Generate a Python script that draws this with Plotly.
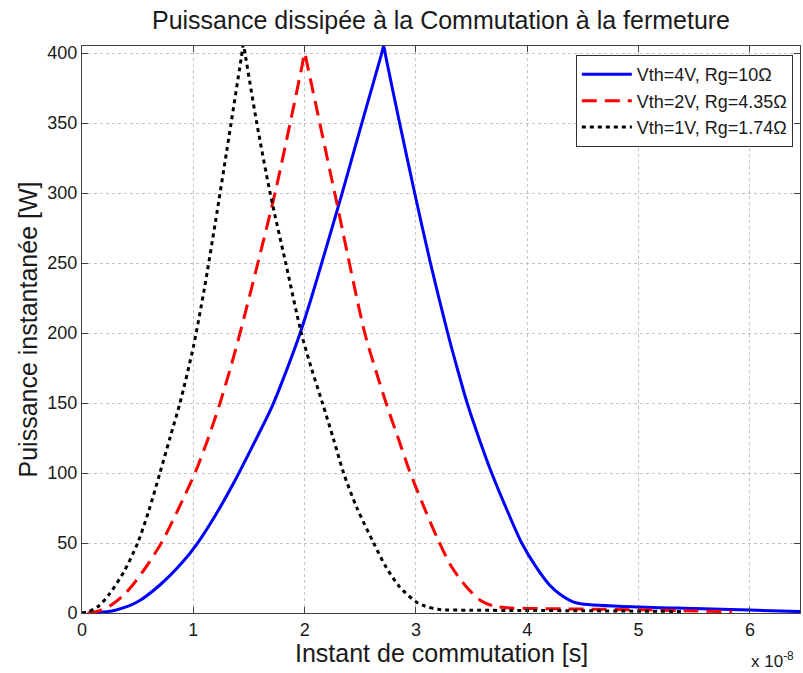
import plotly.graph_objects as go

# instants in units of 1e-8 s, power in W
t_vth4 = [0.1, 0.3, 0.5, 0.7, 0.9, 1.03, 1.2, 1.39, 1.55, 1.71, 1.85, 1.96, 2.06, 2.15, 2.33, 2.5, 2.69, 2.71,
          2.73, 2.84, 2.98, 3.13, 3.285, 3.37, 3.46, 3.57, 3.68, 3.81, 3.95, 4.07, 4.2, 4.3, 4.41, 4.49,
          5.0, 5.5, 6.0, 6.45]
p_vth4 = [0, 2, 8, 20, 36, 49, 70, 97, 122, 148, 176, 200, 225, 249, 298, 346, 399, 405,
          397, 355, 303, 250, 200, 175, 150, 124, 100, 75, 50, 34, 20, 13, 8, 6.5,
          4.3, 3.2, 2.1, 1.0]

t_vth2 = [0.05, 0.15, 0.25, 0.39, 0.55, 0.72, 0.87, 1.02, 1.13, 1.24, 1.33, 1.42, 1.58, 1.74, 1.87, 1.98, 2.0,
          2.02, 2.27, 2.54, 2.64, 2.74, 2.84, 2.94, 3.06, 3.2, 3.32, 3.45, 3.58, 3.7,
          3.85, 4.0, 4.5, 5.0, 5.5, 5.84]
p_vth2 = [0, 1.5, 5, 14, 30, 51, 75, 101, 124, 150, 174, 200, 250, 302, 350, 392, 400,
          393, 300, 200, 173, 148, 125, 102, 78, 52, 33, 19, 9, 5,
          3.6, 3.3, 2.8, 2.3, 1.5, 0.8]

t_vth1 = [0.0, 0.06, 0.15, 0.25, 0.38, 0.5, 0.6, 0.7, 0.79, 0.88, 1.0, 1.1, 1.2, 1.3, 1.43, 1.45,
          1.47, 1.57, 1.69, 1.83, 1.97, 2.06, 2.16, 2.26, 2.35, 2.47, 2.62, 2.73, 2.85, 3.0, 3.08, 3.2,
          3.5, 4.0, 4.5, 5.0, 5.42]
p_vth1 = [0, 1, 5, 14, 30, 50, 73, 100, 125, 150, 190, 232, 280, 330, 396, 406,
          397, 350, 300, 250, 200, 175, 150, 124, 100, 75, 50, 33, 19, 8, 5, 2.6,
          2.0, 1.8, 1.6, 1.3, 1.1]

labels = ["Vth=4V, Rg=10Ω", "Vth=2V, Rg=4.35Ω", "Vth=1V, Rg=1.74Ω"]
x_ticks = [0, 1, 2, 3, 4, 5, 6]
y_ticks = [0, 50, 100, 150, 200, 250, 300, 350, 400]

FONT = "Liberation Sans, Arial, sans-serif"
TEXT = "#1a1a1a"

fig = go.Figure()
fig.add_trace(go.Scatter(x=t_vth4, y=p_vth4, mode="lines", name=labels[0],
                         line=dict(color="#0000ff", width=3, shape="spline", smoothing=0.8)))
fig.add_trace(go.Scatter(x=t_vth2, y=p_vth2, mode="lines", name=labels[1],
                         line=dict(color="#ff0000", width=3, dash="15px,8px",
                                   shape="spline", smoothing=0.8)))
fig.add_trace(go.Scatter(x=t_vth1, y=p_vth1, mode="lines", name=labels[2],
                         line=dict(color="#000000", width=3, dash="4px,4px",
                                   shape="spline", smoothing=0.8)))

axis_style = dict(
    showline=True, linecolor="#404040", linewidth=1, mirror="ticks",
    ticks="inside", ticklen=6, tickcolor="#404040",
    showgrid=True, gridcolor="#c4c4c4", griddash="dot", gridwidth=1,
    zeroline=False, tickfont=dict(size=18, color=TEXT, family=FONT),
)

fig.update_xaxes(range=[0, 6.45], tickvals=x_ticks, **axis_style)
fig.update_yaxes(range=[0, 405], tickvals=y_ticks, **axis_style)

fig.update_layout(
    width=803, height=673,
    margin=dict(l=82, r=3, t=46, b=60),
    paper_bgcolor="white", plot_bgcolor="white",
    font=dict(family=FONT, color=TEXT),
    title=dict(text="Puissance dissipée à la Commutation à la fermeture",
               x=441 / 803, xanchor="center",
               y=1 - 20 / 673, yanchor="middle",
               font=dict(size=25, family=FONT, color=TEXT)),
    legend=dict(x=0.99, xanchor="right", y=0.984, yanchor="top",
                bgcolor="white", bordercolor="#303030", borderwidth=1,
                font=dict(size=18, family=FONT, color=TEXT),
                itemwidth=50, tracegroupgap=0),
    annotations=[
        dict(text="Instant de commutation [s]", xref="paper", yref="paper",
             x=0.5, y=-(653 - 613) / 567, xanchor="center", yanchor="middle",
             showarrow=False, font=dict(size=25, family=FONT, color=TEXT)),
        dict(text="Puissance instantanée [W]", xref="paper", yref="paper",
             x=-(82 - 27) / 718, y=0.5, xanchor="center", yanchor="middle",
             textangle=-90, showarrow=False,
             font=dict(size=25, family=FONT, color=TEXT)),
        dict(text="x 10<sup>-8</sup>", xref="paper", yref="paper",
             x=0.995, y=-(660 - 613) / 567, xanchor="right", yanchor="middle",
             showarrow=False, font=dict(size=17, family=FONT, color=TEXT)),
    ],
)

# drop the default body margin so the figure sits at the page's top-left corner
fig.write_html("out.html", config={"displayModeBar": False},
               post_script="document.body.style.margin='0';")
